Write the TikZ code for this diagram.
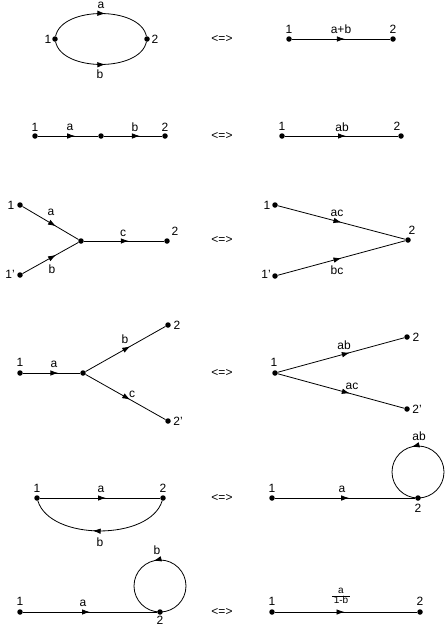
\documentclass[tikz,border=0pt]{standalone}
\usepackage{fontspec}
\setmainfont{Liberation Sans}
\usetikzlibrary{arrows.meta,decorations.markings}
\tikzset{
  dot/.style={circle,fill=black,inner sep=0pt,minimum size=5.5pt},
  lbl/.style={inner sep=0.5pt,font=\fontsize{12}{13}\selectfont},
  eqv/.style={inner sep=0.5pt,font=\fontsize{12}{13}\selectfont},
  flow/.style={line width=0.8pt,postaction={decorate},
    decoration={markings,mark=at position #1 with {\arrow{Latex[length=8pt,width=5.5pt]}}}},
  flow/.default=0.55
}
\begin{document}
\begin{tikzpicture}[x=1pt,y=-1pt]
\useasboundingbox (0,0) rectangle (445,627);
% ---------- Row 1
\node[dot] (a1) at (55,39) {};
\node[dot] (a2) at (147,39) {};
\node[lbl] at (48,39) {1};
\node[lbl] at (155,39) {2};
\draw[flow=0.54] (a1) .. controls (62,6) and (140,6) .. (a2);
\draw[flow=0.54] (a1) .. controls (62,72) and (140,72) .. (a2);
\node[lbl] at (101,5) {a};
\node[lbl] at (100,74) {b};
\node[eqv] at (222,39) {<=>};
\node[dot] (ar1) at (289,39) {};
\node[dot] (ar2) at (393,39) {};
\node[lbl] at (289,29) {1};
\node[lbl] at (393,29) {2};
\draw[flow=0.54] (ar1) -- (ar2);
\node[lbl] at (341,29) {a+b};
% ---------- Row 2
\node[dot] (b1) at (35,136) {};
\node[dot] (bm) at (101,136) {};
\node[dot] (b2) at (165,136) {};
\node[lbl] at (35,127) {1};
\node[lbl] at (165,127) {2};
\draw[flow=0.62] (b1) -- (bm);
\draw[flow=0.62] (bm) -- (b2);
\node[lbl] at (70,127) {a};
\node[lbl] at (135,127) {b};
\node[eqv] at (222,136) {<=>};
\node[dot] (br1) at (282,136) {};
\node[dot] (br2) at (401,136) {};
\node[lbl] at (282,126) {1};
\node[lbl] at (397,126) {2};
\draw[flow=0.54] (br1) -- (br2);
\node[lbl] at (342,127) {ab};
% ---------- Row 3
\node[dot] (c1) at (20,205) {};
\node[dot] (c1p) at (20,275) {};
\node[dot] (cj) at (81,241) {};
\node[dot] (c2) at (167,241) {};
\node[lbl] at (11,205) {1};
\node[lbl] at (10,274) {1'};
\node[lbl] at (175,231) {2};
\draw[flow=0.6] (c1) -- (cj);
\draw[flow=0.6] (c1p) -- (cj);
\draw[flow=0.56] (cj) -- (c2);
\node[lbl] at (51,212) {a};
\node[lbl] at (52,269) {b};
\node[lbl] at (123,233) {c};
\node[eqv] at (222,240) {<=>};
\node[dot] (cr1) at (275,205) {};
\node[dot] (cr1p) at (275,276) {};
\node[dot] (cr2) at (408,240) {};
\node[lbl] at (267,205) {1};
\node[lbl] at (266,274) {1'};
\node[lbl] at (412,230) {2};
\draw[flow=0.5] (cr1) -- (cr2);
\draw[flow=0.5] (cr1p) -- (cr2);
\node[lbl] at (337,213) {ac};
\node[lbl] at (337,270) {bc};
% ---------- Row 4
\node[dot] (d1) at (20,373) {};
\node[dot] (dj) at (83,373) {};
\node[dot] (d2) at (168,325) {};
\node[dot] (d2p) at (168,421) {};
\node[lbl] at (20,362) {1};
\node[lbl] at (177,325) {2};
\node[lbl] at (178,421) {2'};
\draw[flow=0.62] (d1) -- (dj);
\draw[flow=0.56] (dj) -- (d2);
\draw[flow=0.56] (dj) -- (d2p);
\node[lbl] at (54,364) {a};
\node[lbl] at (125,339) {b};
\node[lbl] at (132,394) {c};
\node[eqv] at (222,373) {<=>};
\node[dot] (dr1) at (275,373) {};
\node[dot] (dr2) at (407,337) {};
\node[dot] (dr2p) at (407,409) {};
\node[lbl] at (274,362) {1};
\node[lbl] at (416,337) {2};
\node[lbl] at (417,409) {2'};
\draw[flow=0.57] (dr1) -- (dr2);
\draw[flow=0.57] (dr1) -- (dr2p);
\node[lbl] at (344,345) {ab};
\node[lbl] at (352,386) {ac};
% ---------- Row 5
\node[dot] (e1) at (37,498) {};
\node[dot] (e2) at (163,498) {};
\node[lbl] at (37,488) {1};
\node[lbl] at (163,488) {2};
\draw[flow=0.55] (e1) -- (e2);
\draw[flow=0.55] (e2) .. controls (150,541) and (50,541) .. (e1);
\node[lbl] at (101,489) {a};
\node[lbl] at (100,542) {b};
\node[eqv] at (222,498) {<=>};
\node[dot] (er1) at (272,498) {};
\node[dot] (er2) at (418,498) {};
\node[lbl] at (272,488) {1};
\node[lbl] at (418,508) {2};
\draw[flow=0.53] (er1) -- (er2);
\draw[flow=0.54] (er2.center) arc[start angle=90,end angle=-270,radius=26];
\node[lbl] at (419,436) {ab};
\node[lbl] at (342,489) {a};
% ---------- Row 6
\node[dot] (f1) at (20,612) {};
\node[dot] (f2) at (160,612) {};
\node[lbl] at (20,601) {1};
\node[lbl] at (160,620.5) {2};
\draw[flow=0.5] (f1) -- (f2);
\draw[flow=0.54] (f2.center) arc[start angle=90,end angle=-270,radius=26];
\node[lbl] at (83,603) {a};
\node[lbl] at (157,550) {b};
\node[eqv] at (222,612) {<=>};
\node[dot] (fr1) at (272,612) {};
\node[dot] (fr2) at (420,612) {};
\node[lbl] at (272,601) {1};
\node[lbl] at (420,601) {2};
\draw[flow=0.49] (fr1) -- (fr2);
\node[inner sep=0pt,font=\fontsize{10}{10}\selectfont] at (341,597)
  {\renewcommand\arraystretch{0.8}\setlength\tabcolsep{2pt}\begin{tabular}{c}a\\\hline 1-b\end{tabular}};
\end{tikzpicture}
\end{document}
